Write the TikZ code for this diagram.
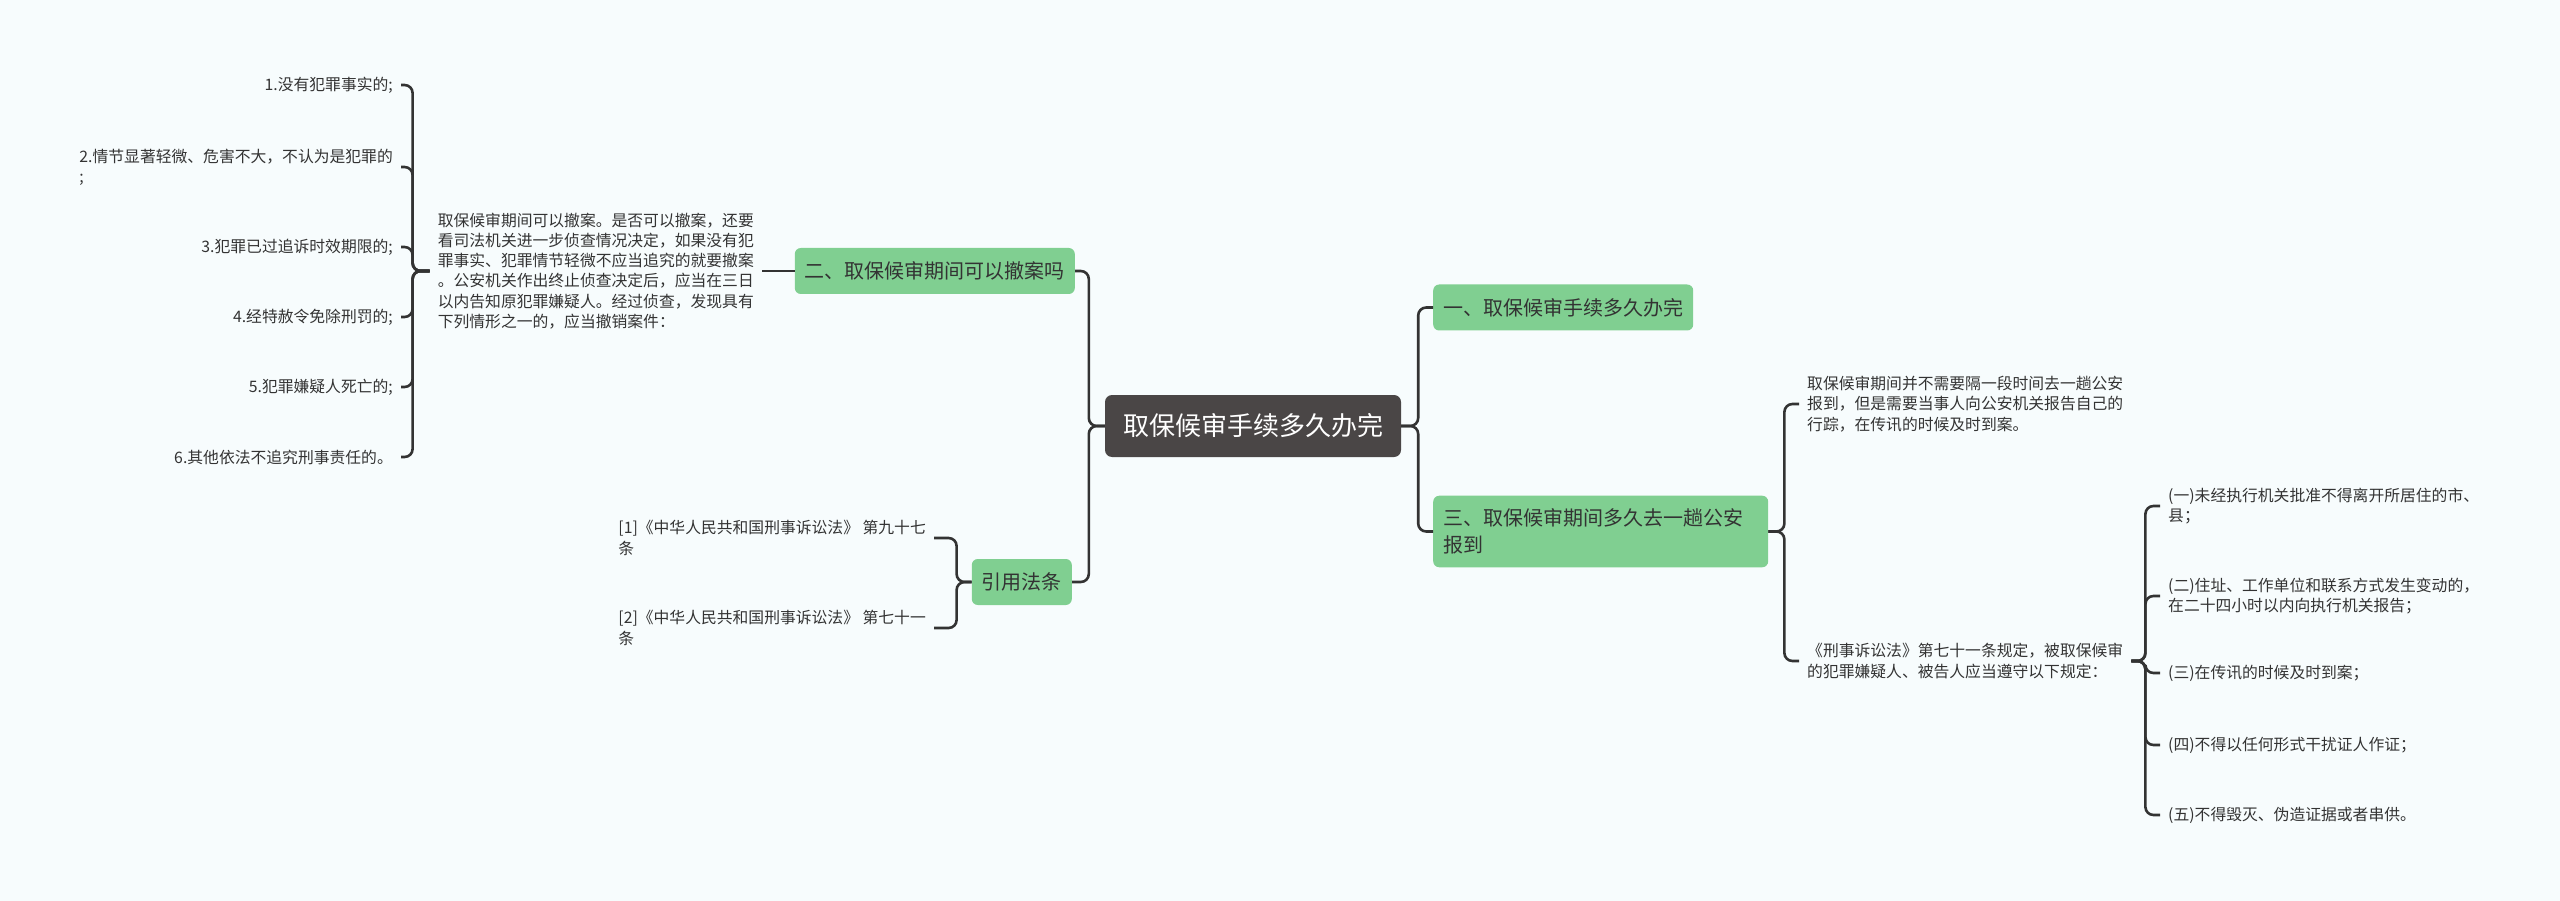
\documentclass[tikz,border=0pt]{standalone}
\usepackage{fontspec}
\setmainfont{Noto Sans CJK SC}
\usepackage{tikz}
\definecolor{bgcol}{HTML}{F7FCFD}
\definecolor{rootgray}{HTML}{4A4646}
\definecolor{topicgreen}{HTML}{80CF91}
\definecolor{textgray}{HTML}{333333}
\definecolor{linegray}{HTML}{333333}

\begin{document}
\begin{tikzpicture}[x=1pt,y=-1pt]
\tikzset{mainbox/.style = {fill=rootgray,text=white,rounded corners=7pt,minimum height=62pt,inner xsep=18pt,font=\fontsize{26}{30}\selectfont}}
\tikzset{subbox/.style = {fill=topicgreen,text=textgray,rounded corners=6pt,minimum height=46pt,inner xsep=10pt,inner ysep=13pt,align=left,font=\fontsize{20}{27}\selectfont}}
\tikzset{leaf/.style = {text=textgray,inner xsep=8pt,inner ysep=0pt,align=left,font=\fontsize{15.8}{20.2}\selectfont}}
\tikzset{edge/.style = {draw=linegray,line width=2.6pt,rounded corners=8pt}}
\fill[bgcol] (0,0) rectangle (2560,901);
\useasboundingbox (0,0) rectangle (2560,901);
% vertices
\node[mainbox,minimum width=296pt] (root) at (1253,426) {取保候审手续多久办完};
\node[subbox,anchor=west] (n1) at (1433,307.5) {一、取保候审手续多久办完};
\node[subbox,anchor=west,text width=315pt] (n3) at (1433,531.5) {三、取保候审期间多久去一趟公安\\报到};
\node[subbox,anchor=east] (n2) at (1075,271) {二、取保候审期间可以撤案吗};
\node[subbox,anchor=east] (law) at (1072,582) {引用法条};
% left: 撤案
\node[leaf,anchor=east] (txt) at (762,271) {取保候审期间可以撤案。是否可以撤案，还要\\看司法机关进一步侦查情况决定，如果没有犯\\罪事实、犯罪情节轻微不应当追究的就要撤案\\。公安机关作出终止侦查决定后，应当在三日\\以内告知原犯罪嫌疑人。经过侦查，发现具有\\下列情形之一的，应当撤销案件：};
\node[leaf,anchor=east] (i1) at (401,85) {1.没有犯罪事实的;};
\node[leaf,anchor=east] (i2) at (401,167) {2.情节显著轻微、危害不大，不认为是犯罪的\\;};
\node[leaf,anchor=east] (i3) at (401,247) {3.犯罪已过追诉时效期限的;};
\node[leaf,anchor=east] (i4) at (401,317) {4.经特赦令免除刑罚的;};
\node[leaf,anchor=east] (i5) at (401,387) {5.犯罪嫌疑人死亡的;};
\node[leaf,anchor=east] (i6) at (401,457) {6.其他依法不追究刑事责任的。};
% left: 法条
\node[leaf,anchor=east] (c1) at (934,538) {[1]《中华人民共和国刑事诉讼法》 第九十七\\条};
\node[leaf,anchor=east] (c2) at (934,628) {[2]《中华人民共和国刑事诉讼法》 第七十一\\条};
% right: 报到
\node[leaf,anchor=west] (r1) at (1799,404) {取保候审期间并不需要隔一段时间去一趟公安\\报到，但是需要当事人向公安机关报告自己的\\行踪，在传讯的时候及时到案。};
\node[leaf,anchor=west] (r2) at (1799,661) {《刑事诉讼法》第七十一条规定，被取保候审\\的犯罪嫌疑人、被告人应当遵守以下规定：};
\node[leaf,anchor=west] (k1) at (2160,506) {(一)未经执行机关批准不得离开所居住的市、\\县；};
\node[leaf,anchor=west] (k2) at (2160,596) {(二)住址、工作单位和联系方式发生变动的，\\在二十四小时以内向执行机关报告；};
\node[leaf,anchor=west] (k3) at (2160,673) {(三)在传讯的时候及时到案；};
\node[leaf,anchor=west] (k4) at (2160,745) {(四)不得以任何形式干扰证人作证；};
\node[leaf,anchor=west] (k5) at (2160,815) {(五)不得毁灭、伪造证据或者串供。};
%edges
\draw[edge] (root.east) -- ++(17,0) |- (n1.west);
\draw[edge] (root.east) -- ++(17,0) |- (n3.west);
\draw[edge] (root.west) -- ++(-16,0) |- (n2.east);
\draw[edge] (root.west) -- ++(-16,0) |- (law.east);
\draw[edge] (n2.west) -- (txt.east);
\draw[edge] (txt.west) -- ++(-17,0) |- (i1.east);
\draw[edge] (txt.west) -- ++(-17,0) |- (i2.east);
\draw[edge] (txt.west) -- ++(-17,0) |- (i3.east);
\draw[edge] (txt.west) -- ++(-17,0) |- (i4.east);
\draw[edge] (txt.west) -- ++(-17,0) |- (i5.east);
\draw[edge] (txt.west) -- ++(-17,0) |- (i6.east);
\draw[edge] (law.west) -- ++(-15,0) |- (c1.east);
\draw[edge] (law.west) -- ++(-15,0) |- (c2.east);
\draw[edge] (n3.east) -- ++(16,0) |- (r1.west);
\draw[edge] (n3.east) -- ++(16,0) |- (r2.west);
\draw[edge] (r2.east) -- ++(14,0) |- (k1.west);
\draw[edge] (r2.east) -- ++(14,0) |- (k2.west);
\draw[edge] (r2.east) -- ++(14,0) |- (k3.west);
\draw[edge] (r2.east) -- ++(14,0) |- (k4.west);
\draw[edge] (r2.east) -- ++(14,0) |- (k5.west);
\end{tikzpicture}
\end{document}
